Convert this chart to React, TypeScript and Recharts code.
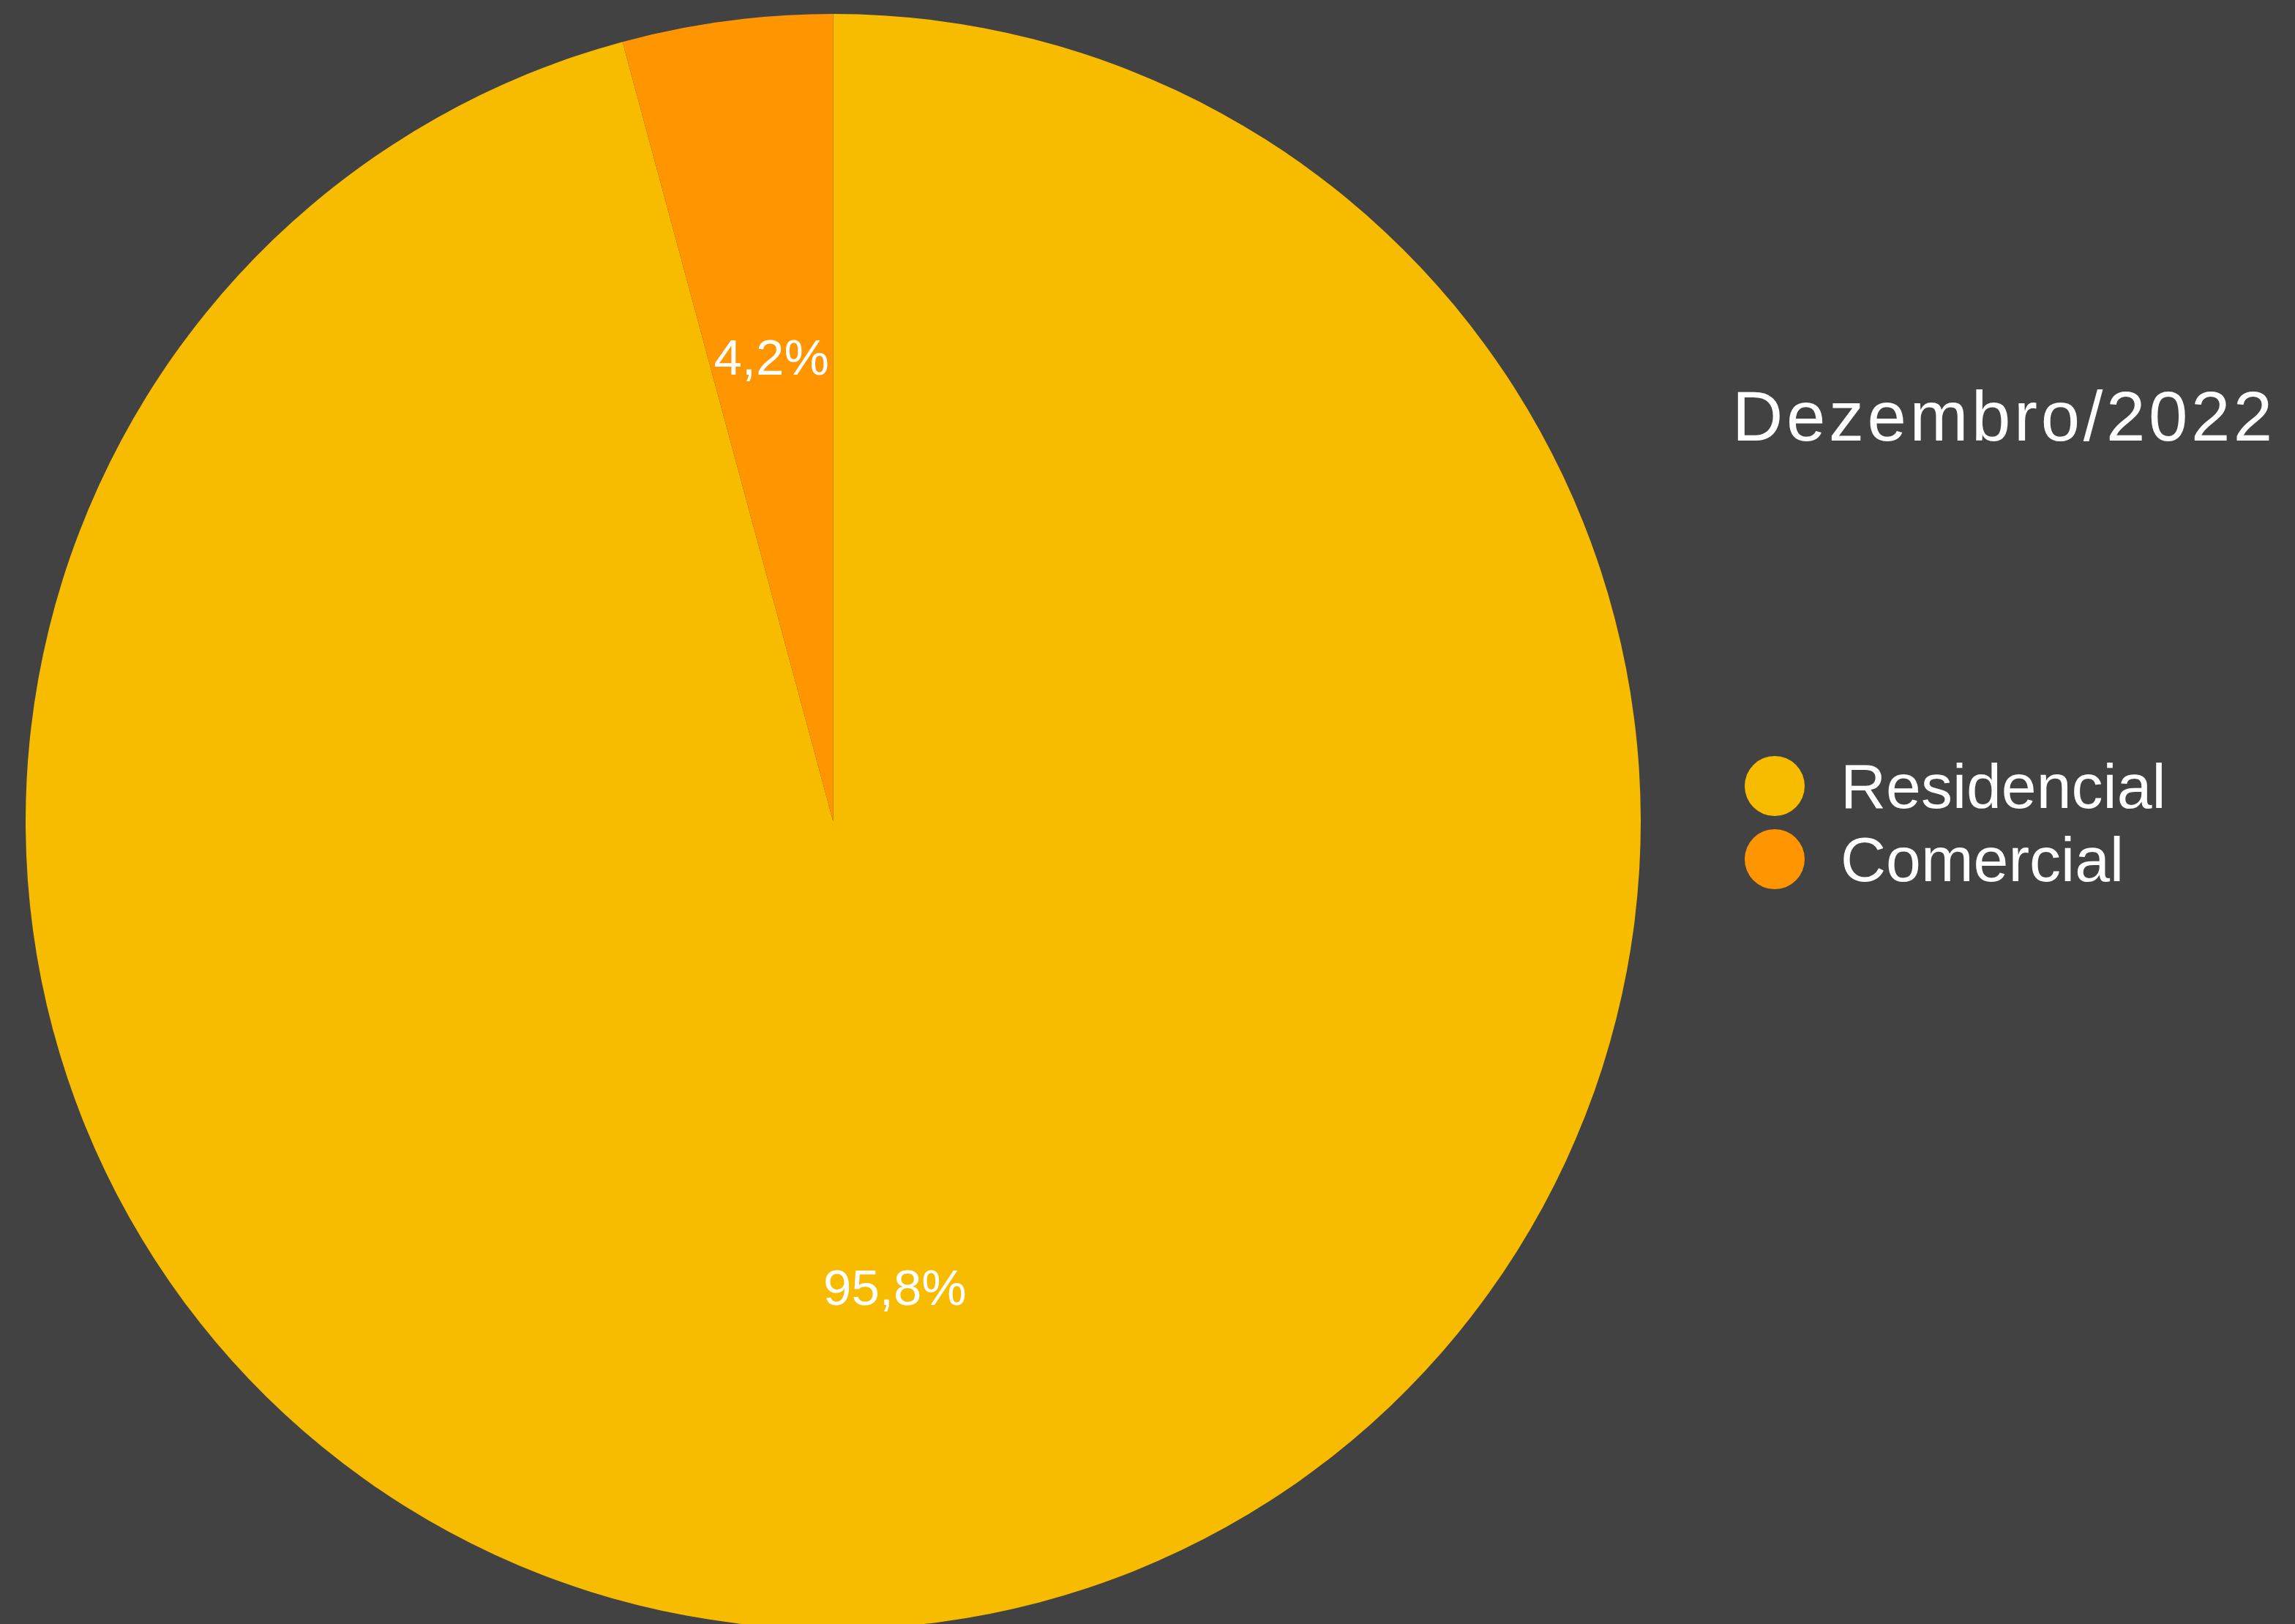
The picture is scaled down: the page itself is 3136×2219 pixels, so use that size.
import { PieChart, Pie, Cell, Legend } from "recharts";

const categories = ["Residencial", "Comercial"];
const shares = [95.8, 4.2];
const colors = ["#F7BB00", "#FF9500"];
const title = "Dezembro/2022";

const data = categories.map((name, i) => ({ name, value: shares[i] }));

const FONT = '"Liberation Sans", Arial, Helvetica, sans-serif';
const RAD = Math.PI / 180;

function renderLabel(props: any) {
  const { cx, cy, midAngle, outerRadius, value } = props;
  const r = outerRadius * 0.581;
  const x = cx + r * Math.cos(-midAngle * RAD);
  const y = cy + r * Math.sin(-midAngle * RAD);
  return (
    <text
      x={x}
      y={y + 25}
      fill="#ffffff"
      textAnchor="middle"
      fontFamily={FONT}
      fontSize={69}
    >
      {`${Number(value).toFixed(1).replace(".", ",")}%`}
    </text>
  );
}

// legend keeps the data order (Recharts would sort it by name)
function renderLegend() {
  return (
    <div style={{ display: "flex", flexDirection: "column" }}>
      {categories.map((name, i) => (
        <div
          key={name}
          style={{ display: "flex", alignItems: "center", height: 100 }}
        >
          <span
            style={{
              display: "inline-block",
              width: 82,
              height: 82,
              borderRadius: "50%",
              backgroundColor: colors[i],
            }}
          />
          <span
            style={{
              marginLeft: 49,
              fontFamily: FONT,
              fontSize: 86,
              lineHeight: "100px",
              color: "#ffffff",
            }}
          >
            {name}
          </span>
        </div>
      ))}
    </div>
  );
}

export default function App() {
  return (
    <div
      style={{
        position: "absolute",
        left: 0,
        top: 0,
        width: 3136,
        height: 2219,
        overflow: "hidden",
        background: "#424242",
      }}
    >
      <PieChart
        width={3136}
        height={2219}
        margin={{ top: 0, right: 0, bottom: 0, left: 0 }}
      >
        <Pie
          data={data}
          dataKey="value"
          nameKey="name"
          cx={1138.5}
          cy={1122.5}
          outerRadius={1103.5}
          startAngle={90}
          endAngle={-270}
          stroke="none"
          label={renderLabel}
          labelLine={false}
          isAnimationActive={false}
        >
          {data.map((d, i) => (
            <Cell key={d.name} fill={colors[i]} />
          ))}
        </Pie>
        <Legend
          layout="vertical"
          content={renderLegend}
          wrapperStyle={{ position: "absolute", left: 2384, top: 1024, width: 700 }}
        />
      </PieChart>
      <div
        style={{
          position: "absolute",
          left: 2367,
          top: 521,
          fontFamily: FONT,
          fontSize: 96,
          lineHeight: "96px",
          letterSpacing: 4.6,
          color: "#ffffff",
          whiteSpace: "nowrap",
        }}
      >
        {title}
      </div>
    </div>
  );
}
